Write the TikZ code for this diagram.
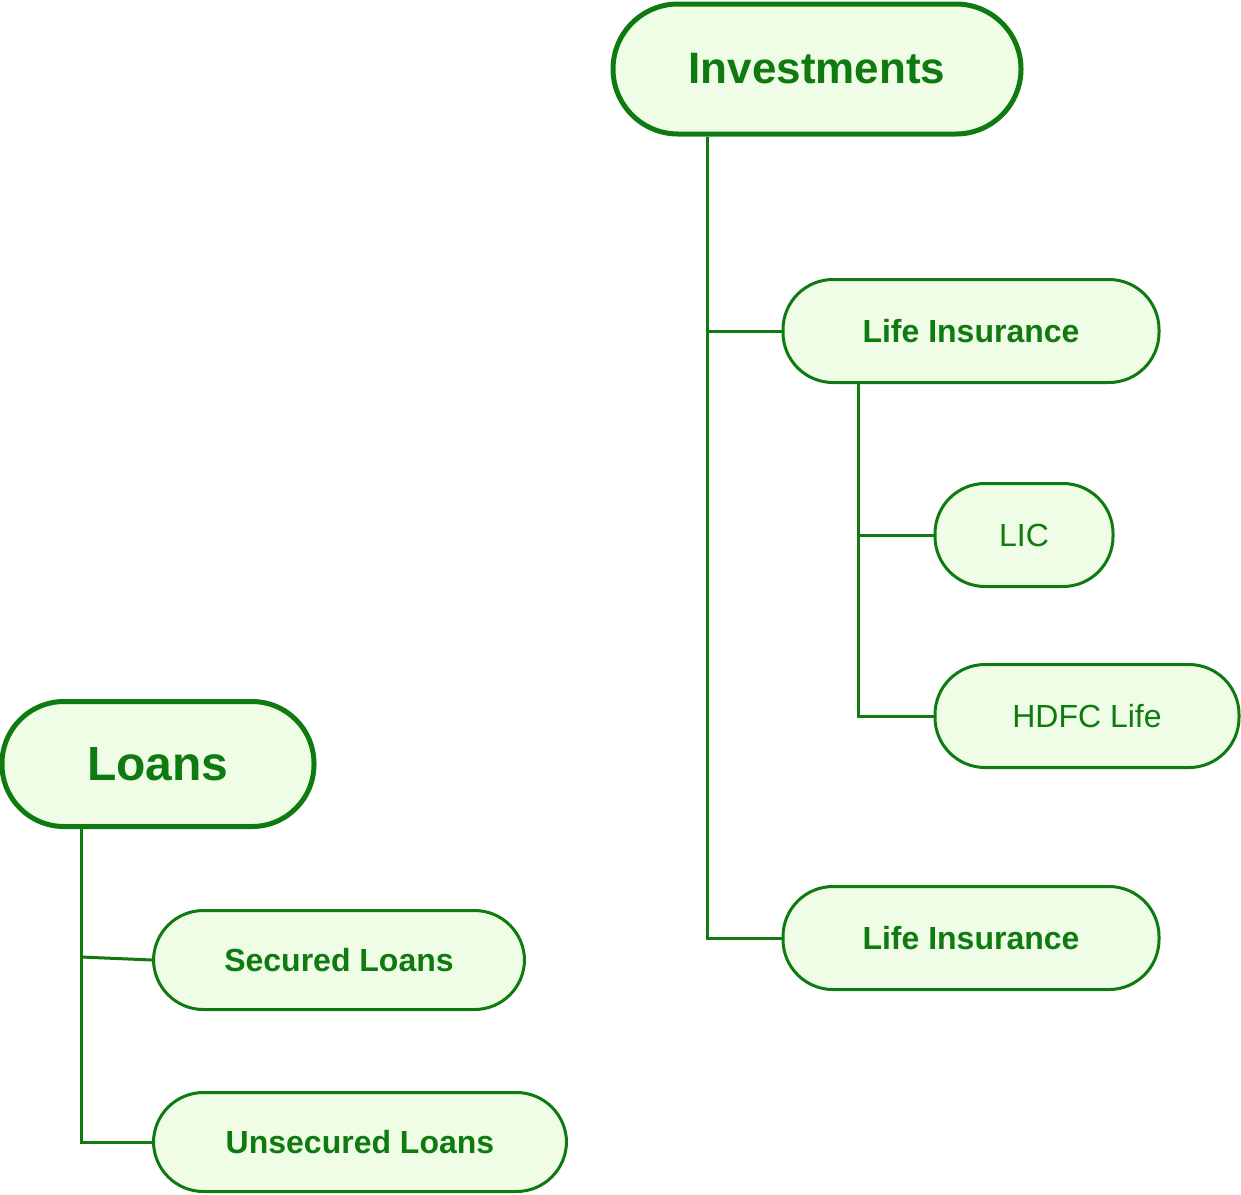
\documentclass[tikz,border=0pt]{standalone}
\usepackage{fontspec}
\setmainfont{Liberation Sans}
\definecolor{gline}{HTML}{0F7A0F}
\definecolor{gfill}{HTML}{EFFDE6}
\begin{document}
\begin{tikzpicture}[x=1pt,y=-1pt,
 pill/.style={draw=gline,fill=gfill,rounded corners=50pt,line width=3pt,text=gline,inner sep=0pt},
 conn/.style={draw=gline,line width=3pt}]
\useasboundingbox (0,0) rectangle (1241,1194);
\node[pill,line width=5pt,minimum width=408pt,minimum height=130pt,rounded corners=65pt,font=\fontsize{44}{50}\selectfont\bfseries] (inv) at (817,69) {Investments};
\node[pill,minimum width=376pt,minimum height=103pt,font=\fontsize{32}{38}\selectfont\bfseries] (li1) at (971,331) {Life Insurance};
\node[pill,minimum width=178pt,minimum height=103pt,font=\fontsize{32}{38}\selectfont] (lic) at (1024,535) {LIC};
\node[pill,minimum width=304pt,minimum height=103pt,font=\fontsize{32}{38}\selectfont] (hdfc) at (1087,716) {HDFC Life};
\node[pill,minimum width=376pt,minimum height=103pt,font=\fontsize{32}{38}\selectfont\bfseries] (li2) at (971,938) {Life Insurance};
\node[pill,line width=5pt,minimum width=312pt,minimum height=125pt,rounded corners=62pt,font=\fontsize{48}{54}\selectfont\bfseries] (loans) at (158,764) {Loans};
\node[pill,minimum width=371pt,minimum height=99pt,font=\fontsize{32}{38}\selectfont\bfseries] (sec) at (339,960) {Secured Loans};
\node[pill,minimum width=413pt,minimum height=99pt,font=\fontsize{32}{38}\selectfont\bfseries] (uns) at (360,1142) {Unsecured Loans};
\draw[conn] (inv.south -| 707,0) |- (li2.west);
\draw[conn] (707,331) -- (li1.west);
\draw[conn] (li1.south -| 858,0) |- (hdfc.west);
\draw[conn] (858,535) -- (lic.west);
\draw[conn] (loans.south -| 81,0) |- (uns.west);
\draw[conn] (81,957) -- (sec.west);
\end{tikzpicture}
\end{document}
